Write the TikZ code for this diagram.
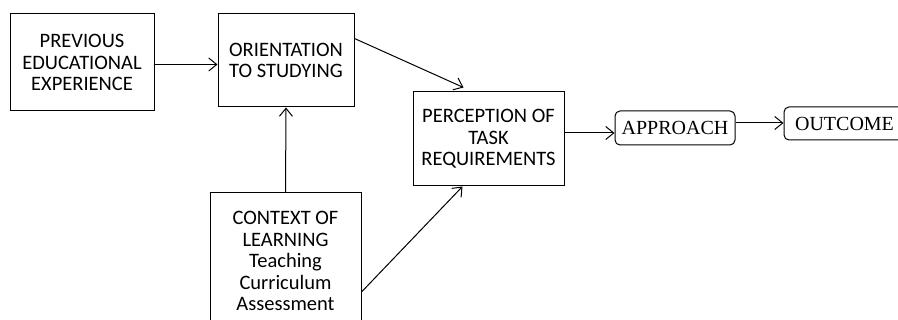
\documentclass[tikz,border=0pt]{standalone}
\usepackage{fontspec}
\setmainfont{Carlito}
\newfontfamily\boxserif{Liberation Serif}
\usepackage{tikz}
\usetikzlibrary{arrows.meta, positioning}
\tikzset{every node/.style={font=\fontsize{20.5}{21.5}\selectfont},
  stage/.style={draw, line width=1pt, align=center, inner sep=0pt},
  result/.style={draw, line width=1pt, rounded corners=5pt, inner sep=0pt,
    font=\boxserif\fontsize{20}{22}\selectfont},
  flow/.style={->, line width=1pt, >={Straight Barb[length=8pt,width=13pt]}}}

\begin{document}
\begin{tikzpicture}[x=1pt, y=-1pt]
  \useasboundingbox (0,0) rectangle (898,320);
  \node[stage, minimum width=144pt, minimum height=97pt] (prev) at (82,62.5)
    {PREVIOUS\\EDUCATIONAL\\EXPERIENCE};
  \node[stage, minimum width=136pt, minimum height=93pt] (orient) at (286,60.5)
    {ORIENTATION\\TO STUDYING};
  \node[stage, minimum width=151pt, minimum height=94pt] (percep) at (488.5,139)
    {PERCEPTION OF\\TASK\\REQUIREMENTS};
  \node[stage, minimum width=151pt, minimum height=136pt] (context) at (285.5,261)
    {CONTEXT OF\\LEARNING\\Teaching\\Curriculum\\Assessment};
  \node[result, minimum width=120pt, minimum height=34pt] (approach) at (675,128)
    {APPROACH};
  \node[result, minimum width=125pt, minimum height=33pt] (outcome) at (846.5,123.5)
    {\hspace*{-4pt}OUTCOME};

  \draw[flow] ([yshift=-2pt]prev.east) -- ([yshift=-2pt]prev.east -| orient.west);
  \draw[flow] ([yshift=22pt]orient.east) -- ([xshift=-25pt,yshift=4pt]percep.north);
  \draw[flow] (context.north) -- (orient.south);
  \draw[flow] ([yshift=-31pt]context.east) -- ([xshift=-26pt]percep.south);
  \draw[flow] ([yshift=-5pt]approach.west -| percep.east) -- ([yshift=-5pt]approach.west);
  \draw[flow] ([yshift=5pt]approach.east) -- ([yshift=5pt]approach.east -| outcome.west);
\end{tikzpicture}
\end{document}
